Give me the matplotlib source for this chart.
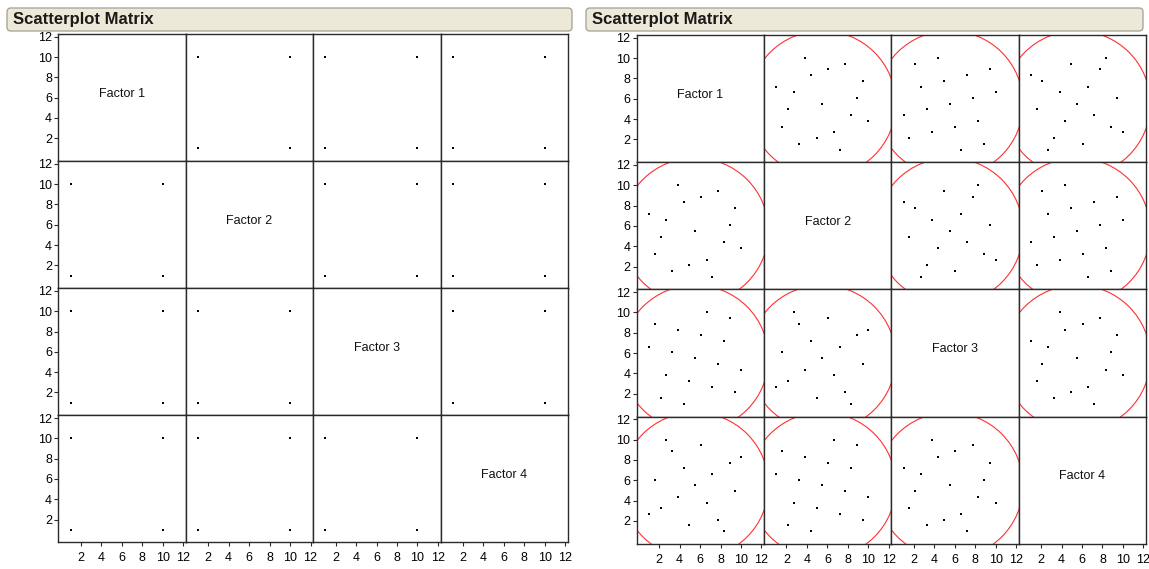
import matplotlib
matplotlib.use("Agg")
import matplotlib.pyplot as plt
import numpy as np
from matplotlib.patches import Ellipse, FancyBboxPatch
from matplotlib.transforms import IdentityTransform

# left report: two-level fractional factorial
fact_f1 = [1, 10, 1, 10, 1, 10, 1, 10]
fact_f2 = [1, 1, 10, 10, 1, 1, 10, 10]
fact_f3 = [1, 1, 1, 1, 10, 10, 10, 10]
fact_f4 = [1, 10, 10, 1, 10, 1, 1, 10]

# right report: 17-run space filling design
sf_f1 = [1.00, 1.56, 2.13, 2.69, 3.25, 3.81, 4.38, 4.94, 5.50,
         6.06, 6.63, 7.19, 7.75, 8.31, 8.88, 9.44, 10.00]
sf_f2 = [7.19, 3.25, 4.94, 6.63, 1.56, 10.00, 8.31, 2.13, 5.50,
         8.88, 2.69, 1.00, 9.44, 4.38, 6.06, 7.75, 3.81]
sf_f3 = [6.63, 8.88, 1.56, 3.81, 6.06, 8.31, 1.00, 3.25, 5.50,
         7.75, 10.00, 2.69, 4.94, 7.19, 9.44, 2.13, 4.38]
sf_f4 = [2.69, 6.06, 3.25, 10.00, 8.88, 4.38, 7.19, 1.56, 5.50,
         9.44, 3.81, 6.63, 2.13, 1.00, 7.75, 4.94, 8.31]

factor_names = ["Factor 1", "Factor 2", "Factor 3", "Factor 4"]
tick_values = [2, 4, 6, 8, 10, 12]
report_title = "Scatterplot Matrix"

W, H = 1149, 569
plt.rcParams["font.family"] = ["Liberation Sans", "DejaVu Sans"]
fig = plt.figure(figsize=(W / 100, H / 100), dpi=100)
fig.patch.set_facecolor("white")

line_col = "#2b2b2b"


def px_axes(x, y, w, h):
    return fig.add_axes([x / W, 1 - (y + h) / H, w / W, h / H])


def density_ellipse(ax, x, y, k=2.53):
    # density ellipse from the bivariate fit of the two columns
    cov = np.cov(x, y)
    vals, vecs = np.linalg.eigh(cov)
    angle = np.degrees(np.arctan2(vecs[1, 1], vecs[0, 1]))
    e = Ellipse((np.mean(x), np.mean(y)), 2 * k * np.sqrt(vals[1]),
                2 * k * np.sqrt(vals[0]), angle=angle, fill=False,
                edgecolor="#ff3030", linewidth=0.8)
    ax.add_patch(e)


def draw_matrix(x0, y0, cw, ch, cols, ellipses):
    for i in range(4):
        for j in range(4):
            ax = px_axes(x0 + j * cw, y0 + i * ch, cw, ch)
            ax.set_xlim(-0.2, 12.25)
            ax.set_ylim(-0.25, 12.27)
            for s in ax.spines.values():
                s.set_color(line_col)
                s.set_linewidth(1.0)
            if i == j:
                ax.text(0.5, 0.53, factor_names[i], transform=ax.transAxes,
                        ha="center", va="center", fontsize=9, color="#111111")
            else:
                ax.plot(cols[j], cols[i], "s", color="black", markersize=2.0,
                        markeredgewidth=0)
                if ellipses:
                    density_ellipse(ax, cols[j], cols[i])
            if j == 0:
                ax.set_yticks(tick_values)
                ax.tick_params(axis="y", direction="out", length=3, width=0.8,
                               pad=1.5, labelsize=9, color=line_col)
            else:
                ax.set_yticks([])
            if i == 3:
                ax.set_xticks(tick_values)
                ax.tick_params(axis="x", direction="out", length=3, width=0.8,
                               pad=4, labelsize=9, color=line_col)
            else:
                ax.set_xticks([])


draw_matrix(58.3, 34, 127.4, 127.1, [fact_f1, fact_f2, fact_f3, fact_f4], False)
draw_matrix(636.7, 35, 127.3, 127.2, [sf_f1, sf_f2, sf_f3, sf_f4], True)

# title bars
for bx, bw in [(7, 565), (586, 557)]:
    bar = FancyBboxPatch((bx, H - 31), bw, 23,
                         boxstyle="round,pad=0,rounding_size=4",
                         facecolor="#ECE9D8", edgecolor="#A9A79C",
                         linewidth=1.0, transform=IdentityTransform(), zorder=10)
    fig.add_artist(bar)
    fig.text((bx + 6) / W, (H - 19.5) / H, report_title, fontsize=12,
             fontweight="bold", va="center", ha="left", color="#1a1a1a",
             zorder=11)

fig.savefig("out.png", dpi=100)
